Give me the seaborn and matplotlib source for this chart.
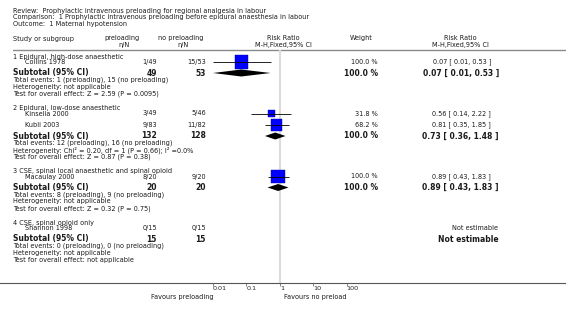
import numpy as np
import pandas as pd
import seaborn as sns
import matplotlib.pyplot as plt
from matplotlib.ticker import NullLocator

review = "Review:  Prophylactic intravenous preloading for regional analgesia in labour"
comparison = "Comparison:  1 Prophylactic intravenous preloading before epidural anaesthesia in labour"
outcome = "Outcome:  1 Maternal hypotension"

groups = ["1 Epidural, high-dose anaesthetic",
          "2 Epidural, low-dose anaesthetic",
          "3 CSE, spinal local anaesthetic and spinal opioid",
          "4 CSE, spinal opioid only"]
studies = ["Collins 1978", "Kinsella 2000", "Kubli 2003", "Macaulay 2000", "Shannon 1998"]
study_group = [0, 1, 1, 2, 3]
pre_events = [1, 3, 9, 8, 0]
pre_total = [49, 49, 83, 20, 15]
ctl_events = [15, 5, 11, 9, 0]
ctl_total = [53, 46, 82, 20, 15]
rr = [0.07, 0.56, 0.81, 0.89, np.nan]
rr_low = [0.01, 0.14, 0.35, 0.43, np.nan]
rr_high = [0.53, 2.22, 1.85, 1.83, np.nan]
weight = [100.0, 31.8, 68.2, 100.0, np.nan]

sub_rr = [0.07, 0.73, 0.89, np.nan]
sub_low = [0.01, 0.36, 0.43, np.nan]
sub_high = [0.53, 1.48, 1.83, np.nan]
heterogeneity = ["not applicable", "Chi\u00b2 = 0.20, df = 1 (P = 0.66); I\u00b2 =0.0%",
                 "not applicable", "not applicable"]
overall_test = ["Z = 2.59 (P = 0.0095)", "Z = 0.87 (P = 0.38)",
                "Z = 0.32 (P = 0.75)", "not applicable"]

tick_values = [0.01, 0.1, 1, 10, 100]
tick_labels = ["0.01", "0.1", "1", "10", "100"]

sns.set_style("white")
plt.rcParams['font.family'] = ['DejaVu Sans']

small = 4.7
big = 5.5
txt = '#1a1a1a'

fig = plt.figure(figsize=(5.66, 3.13), dpi=100)
ax_t = fig.add_axes([0, 0, 1, 1])
ax_t.set_xlim(0, 566)
ax_t.set_ylim(313, 0)
ax_t.axis('off')

# forest panel: log x, spans the whole width so the bottom spine is the long rule
dec = 33.4
ax = fig.add_axes([0, 30 / 313, 1, 233 / 313])
ax.set_xscale('log')
ax.set_xlim(10 ** (-2 - 213 / dec), 10 ** (-2 + (566 - 213) / dec))
ax.set_ylim(283, 50)
ax.patch.set_alpha(0)
for s in ['top', 'right', 'left']:
    ax.spines[s].set_visible(False)
ax.spines['bottom'].set_color('#555555')
ax.spines['bottom'].set_linewidth(0.8)

# header
ax_t.text(13, 11, review, fontsize=small, color=txt, va='center')
ax_t.text(13, 17.5, comparison, fontsize=small, color=txt, va='center')
ax_t.text(13, 24, outcome, fontsize=small, color=txt, va='center')
ax_t.text(13, 39, "Study or subgroup", fontsize=small, color=txt, va='center')
ax_t.text(122, 38, "preloading", fontsize=small, color=txt, va='center', ha='center')
ax_t.text(124, 44.5, "n/N", fontsize=small, color=txt, va='center', ha='center')
ax_t.text(181, 38, "no preloading", fontsize=small, color=txt, va='center', ha='center')
ax_t.text(183, 44.5, "n/N", fontsize=small, color=txt, va='center', ha='center')
ax_t.text(283, 38, "Risk Ratio", fontsize=small, color=txt, va='center', ha='center')
ax_t.text(283, 44.5, "M-H,Fixed,95% CI", fontsize=small, color=txt, va='center', ha='center')
ax_t.text(361, 38, "Weight", fontsize=small, color=txt, va='center', ha='center')
ax_t.text(460, 38, "Risk Ratio", fontsize=small, color=txt, va='center', ha='center')
ax_t.text(460, 44.5, "M-H,Fixed,95% CI", fontsize=small, color=txt, va='center', ha='center')
ax_t.plot([13, 566], [49.5, 49.5], color='#8a8a8a', lw=1)

ax.axvline(1, color='#dcdcdc', lw=1.5, zorder=0)

# row layout
y = 56.5
study_y = [np.nan] * len(studies)
sub_y = []
for g, name in enumerate(groups):
    ax_t.text(13, y, name, fontsize=small, color=txt, va='center')
    idx = [i for i, sg in enumerate(study_group) if sg == g]
    y += 5.5
    for k, i in enumerate(idx):
        if k > 0:
            y += 11.5
        study_y[i] = y
        ax_t.text(25, y, studies[i], fontsize=small, color=txt, va='center')
        ax_t.text(157, y, f"{pre_events[i]}/{pre_total[i]}", fontsize=small, color=txt, va='center', ha='right')
        ax_t.text(206, y, f"{ctl_events[i]}/{ctl_total[i]}", fontsize=small, color=txt, va='center', ha='right')
        if np.isnan(rr[i]):
            ax_t.text(498, y, "Not estimable", fontsize=small, color=txt, va='center', ha='right')
        else:
            ax_t.text(378, y, f"{weight[i]:.1f} %", fontsize=small, color=txt, va='center', ha='right')
            ax_t.text(491, y, f"{rr[i]:.2f} [ {rr_low[i]:.2f}, {rr_high[i]:.2f} ]",
                      fontsize=small, color=txt, va='center', ha='right')
    y += 11
    sub_y.append(y)
    n_pre = sum(pre_total[i] for i in idx)
    n_ctl = sum(ctl_total[i] for i in idx)
    e_pre = sum(pre_events[i] for i in idx)
    e_ctl = sum(ctl_events[i] for i in idx)
    ax_t.text(13, y, "Subtotal (95% CI)", fontsize=big, fontweight='bold', color=txt, va='center')
    ax_t.text(157, y, f"{n_pre}", fontsize=big, fontweight='bold', color=txt, va='center', ha='right')
    ax_t.text(206, y, f"{n_ctl}", fontsize=big, fontweight='bold', color=txt, va='center', ha='right')
    if np.isnan(sub_rr[g]):
        ax_t.text(499, y, "Not estimable", fontsize=big, fontweight='bold', color=txt, va='center', ha='right')
    else:
        ax_t.text(378, y, "100.0 %", fontsize=big, fontweight='bold', color=txt, va='center', ha='right')
        ax_t.text(499, y, f"{sub_rr[g]:.2f} [ {sub_low[g]:.2f}, {sub_high[g]:.2f} ]",
                  fontsize=big, fontweight='bold', color=txt, va='center', ha='right')
    y += 7
    ax_t.text(13, y, f"Total events: {e_pre} (preloading), {e_ctl} (no preloading)",
              fontsize=small, color=txt, va='center')
    y += 7
    ax_t.text(13, y, f"Heterogeneity: {heterogeneity[g]}", fontsize=small, color=txt, va='center')
    y += 7
    ax_t.text(13, y, f"Test for overall effect: {overall_test[g]}", fontsize=small, color=txt, va='center')
    y += 14

# study squares and CIs
df = pd.DataFrame({'rr': rr, 'lo': rr_low, 'hi': rr_high, 'y': study_y, 'w': weight}).dropna()
sns.scatterplot(data=df, x='rr', y='y', size='w', sizes=(0, 92), size_norm=(0, 100),
                marker='s', color='#0000ff', edgecolor='#0000aa', linewidth=0.3,
                legend=False, ax=ax, zorder=3)
ax.hlines(df['y'], df['lo'], df['hi'], color='black', lw=0.6, zorder=4)

# subtotal diamonds
for g in range(len(groups)):
    if np.isnan(sub_rr[g]):
        continue
    yy = sub_y[g]
    ax.fill([sub_low[g], sub_rr[g], sub_high[g], sub_rr[g]],
            [yy, yy - 3.5, yy, yy + 3.5], color='black', lw=0, zorder=3)

ax.set_xticks(tick_values, tick_labels)
ax.xaxis.set_minor_locator(NullLocator())
ax.tick_params(axis='x', length=2, width=0.5, color='#555555', labelsize=4.6,
               pad=0.3, labelcolor='#222222', bottom=True)
for lab in ax.get_xticklabels():
    lab.set_ha('left')
ax.set_yticks([])
ax.set_xlabel('')
ax.set_ylabel('')

ax_t.text(182, 296.5, "Favours preloading", fontsize=small, color=txt, va='center', ha='center')
ax_t.text(315, 296.5, "Favours no preload", fontsize=small, color=txt, va='center', ha='center')

fig.savefig('out.png', dpi=100)
